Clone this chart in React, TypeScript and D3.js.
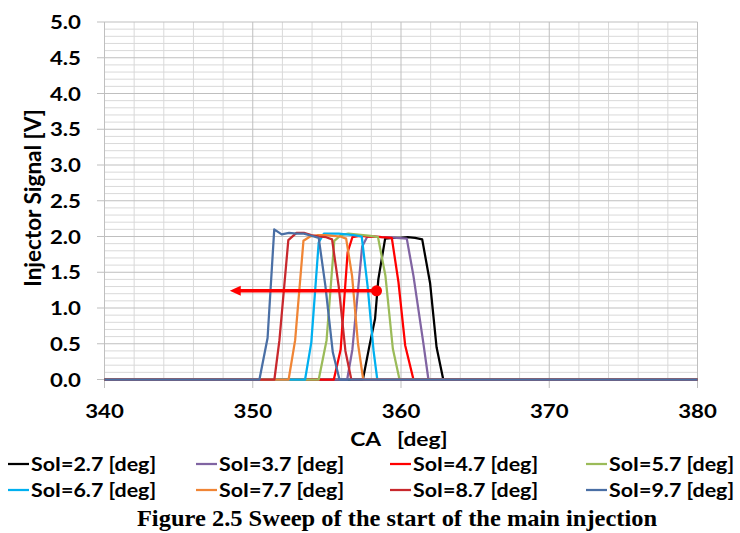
import React from "react";
import * as d3 from "d3";

type Pt = [number, number];

// Series: [crank angle (deg), injector signal (V)]
const soi27: Pt[] = [[340,0],[357.43,0],[357.87,0.47],[358.25,0.85],[358.47,1.4],[358.93,1.97],[359.45,1.98],[359.95,1.98],[360.45,1.99],[360.95,1.98],[361.43,1.96],[361.96,1.35],[362.4,0.45],[362.85,0],[380,0]];
const soi37: Pt[] = [[340,0],[356.37,0],[356.72,0.42],[357.38,1.86],[357.73,2.0],[358.2,2.0],[358.7,1.99],[359.2,1.99],[359.7,1.98],[360.39,1.97],[360.84,1.45],[361.5,0.52],[361.85,0],[380,0]];
const soi47: Pt[] = [[340,0],[355.47,0],[355.93,0.42],[356.4,1.78],[356.72,1.99],[357.2,2.01],[357.7,2.0],[358.2,2.0],[358.7,1.99],[359.38,1.98],[359.83,1.36],[360.28,0.48],[360.84,0],[380,0]];
const soi57: Pt[] = [[340,0],[354.45,0],[354.98,0.55],[355.5,1.94],[355.95,2.02],[356.45,2.04],[356.95,2.03],[357.45,2.02],[357.95,2.01],[358.45,1.99],[358.95,1.45],[359.45,0.43],[359.9,0],[380,0]];
const soi67: Pt[] = [[340,0],[353.53,0],[353.95,0.52],[354.45,1.92],[354.8,2.04],[355.3,2.04],[355.8,2.04],[356.3,2.03],[356.8,2.02],[357.35,2.0],[357.75,1.3],[358.15,0.4],[358.4,0],[380,0]];
const soi77: Pt[] = [[340,0],[352.42,0],[352.86,0.55],[353.42,1.94],[353.87,2.0],[354.4,2.02],[354.9,2.02],[355.4,2.01],[355.9,2.0],[356.3,1.97],[356.7,1.45],[357.1,0.5],[357.45,0],[380,0]];
const soi87: Pt[] = [[340,0],[351.46,0],[351.8,0.55],[352.4,1.95],[352.95,2.05],[353.45,2.05],[353.95,2.02],[354.45,2.0],[354.95,1.99],[355.35,1.96],[355.8,1.3],[356.25,0.4],[356.65,0],[380,0]];
const soi97: Pt[] = [[340,0],[350.45,0],[351.0,0.58],[351.45,2.1],[351.95,2.03],[352.45,2.05],[352.95,2.04],[353.45,2.04],[353.95,2.01],[354.45,1.98],[354.9,1.31],[355.4,0.38],[355.85,0],[380,0]];

const seriesNames = ["SoI=2.7 [deg]","SoI=3.7 [deg]","SoI=4.7 [deg]","SoI=5.7 [deg]","SoI=6.7 [deg]","SoI=7.7 [deg]","SoI=8.7 [deg]","SoI=9.7 [deg]"];
const seriesData = [soi27, soi37, soi47, soi57, soi67, soi77, soi87, soi97];
const seriesColors = ["#000000","#8064A2","#FF0000","#9BBB59","#00B0F0","#F08535","#C8282D","#4A6FA5"];

const xTicks = [340, 350, 360, 370, 380];
const yTicks = [0, 0.5, 1, 1.5, 2, 2.5, 3, 3.5, 4, 4.5, 5];
// Annotation arrow (from dot to tip), in data units
const arrowFrom: Pt = [358.35, 1.24];
const arrowTo: Pt = [348.45, 1.24];

const FONT = "Lato, 'Open Sans', sans-serif";

export default function App() {
  const x = d3.scaleLinear().domain([340, 380]).range([104.5, 697.5]);
  const y = d3.scaleLinear().domain([0, 5]).range([379.5, 22]);
  const line = d3.line<Pt>().x(d => x(d[0])).y(d => y(d[1]));

  const minorX = d3.range(340, 380.01, 2).filter(v => v % 10 !== 0);
  const minorY = d3.range(0, 50.01, 1).map(v => v / 10).filter(v => Math.round(v * 10) % 5 !== 0);

  const legendCols = [8, 196, 390, 586];
  const legendRows = [464, 490];

  const ax = x(arrowFrom[0]), ay = y(arrowFrom[1]), tx = x(arrowTo[0]);

  return (
    <svg width={740} height={533} style={{ position: "absolute", left: 0, top: 0, background: "#fff" }}>
      <rect width={740} height={533} fill="#fff" />
      {/* minor grid */}
      {minorY.map(v => (
        <line key={"my" + v} x1={x(340)} x2={x(380)} y1={y(v)} y2={y(v)} stroke="#D9D9D9" strokeWidth={1} />
      ))}
      {minorX.map(v => (
        <line key={"mx" + v} x1={x(v)} x2={x(v)} y1={y(0)} y2={y(5)} stroke="#D9D9D9" strokeWidth={1} />
      ))}
      {/* major grid */}
      {yTicks.map(v => (
        <line key={"gy" + v} x1={97} x2={x(380)} y1={y(v)} y2={y(v)} stroke="#BFBFBF" strokeWidth={1} />
      ))}
      {xTicks.map(v => (
        <line key={"gx" + v} x1={x(v)} x2={x(v)} y1={y(5)} y2={388} stroke="#BFBFBF" strokeWidth={1} />
      ))}
      {/* series */}
      {seriesData.map((d, i) => (
        <path key={"s" + i} d={line(d) || ""} fill="none" stroke={seriesColors[i]} strokeWidth={2.25} strokeLinejoin="round" />
      ))}
      {/* annotation arrow */}
      <line x1={ax} x2={tx + 8} y1={ay} y2={ay} stroke="#FF0000" strokeWidth={3.5} />
      <path d={`M${tx},${ay} L${tx + 11},${ay - 5} L${tx + 11},${ay + 5} Z`} fill="#FF0000" />
      <circle cx={ax} cy={ay} r={5.5} fill="#FF0000" />
      {/* y tick labels */}
      {yTicks.map(v => (
        <text key={"yl" + v} transform={`translate(81,${y(v)}) scale(1.2,1)`} textAnchor="end" dominantBaseline="central"
          fontFamily={FONT} fontWeight="bold" fontSize={18.5} fill="#000">{v.toFixed(1)}</text>
      ))}
      {/* x tick labels */}
      {xTicks.map(v => (
        <text key={"xl" + v} transform={`translate(${x(v)},411) scale(1.2,1)`} textAnchor="middle" dominantBaseline="central"
          fontFamily={FONT} fontWeight="bold" fontSize={18.5} fill="#000">{v}</text>
      ))}
      {/* axis titles */}
      <text transform={`translate(399,438) scale(1.2,1)`} textAnchor="middle" dominantBaseline="central"
        fontFamily={FONT} fontWeight="bold" fontSize={19} fill="#000" style={{ whiteSpace: "pre" }}>{"CA   [deg]"}</text>
      <text transform={`translate(32,198) rotate(-90)`} textAnchor="middle" dominantBaseline="central"
        fontFamily={FONT} fontWeight="bold" fontSize={22.5} fill="#000">Injector Signal [V]</text>
      {/* legend */}
      {seriesNames.map((n, i) => {
        const lx = legendCols[i % 4];
        const ly = legendRows[Math.floor(i / 4)];
        return (
          <g key={"lg" + i}>
            <line x1={lx} x2={lx + 21} y1={ly} y2={ly} stroke={seriesColors[i]} strokeWidth={2.25} />
            <text transform={`translate(${lx + 23},${ly}) scale(1.19,1)`} dominantBaseline="central"
              fontFamily={FONT} fontWeight="bold" fontSize={18} fill="#000">{n}</text>
          </g>
        );
      })}
      {/* caption */}
      <text transform={`translate(397,526) scale(1.02,1)`} textAnchor="middle"
        fontFamily="'Liberation Serif', 'Times New Roman', serif" fontWeight="bold" fontSize={24} fill="#000">
        Figure 2.5 Sweep of the start of the main injection
      </text>
    </svg>
  );
}
